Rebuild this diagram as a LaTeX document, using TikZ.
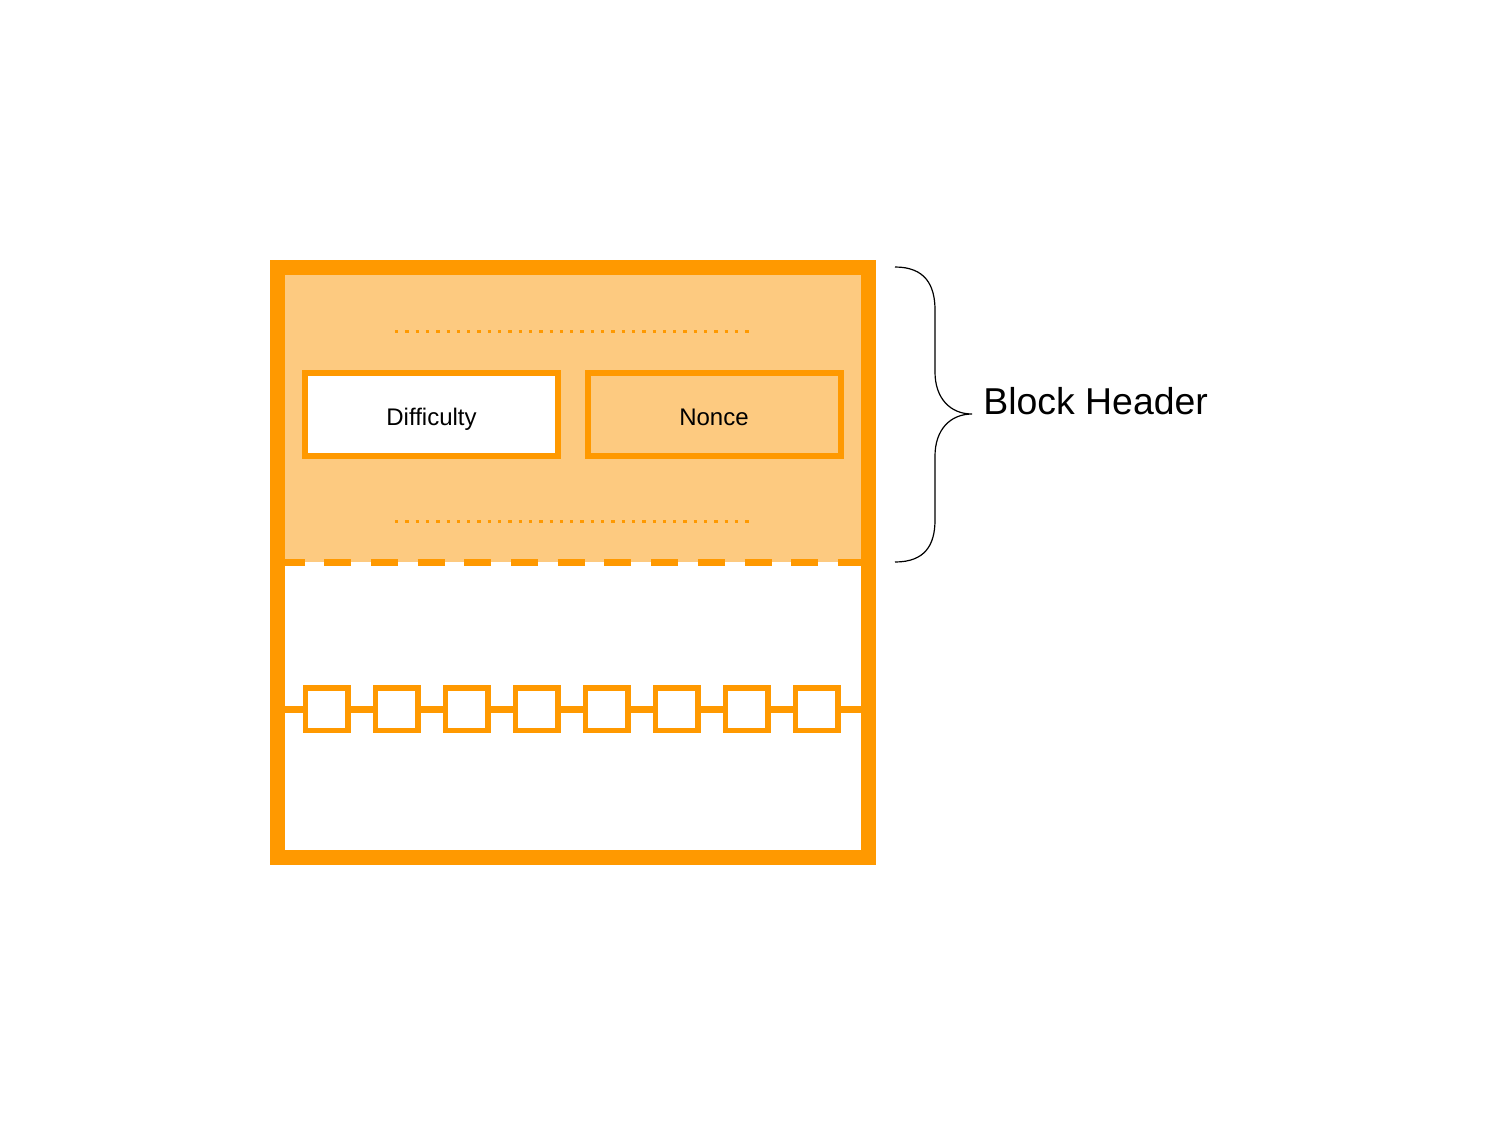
\documentclass[tikz,border=0pt]{standalone}
\usepackage{fontspec}
\setmainfont{Liberation Sans}
\usetikzlibrary{positioning}
\definecolor{blockorange}{RGB}{255,153,0}
\definecolor{headerfill}{RGB}{253,202,128}
\tikzset{
  field/.style={draw=blockorange,line width=3pt,minimum width=126.5pt,minimum height=41.75pt,inner sep=0pt,text height=10.8pt,text depth=0pt,font=\fontsize{12}{14}\selectfont},
  link/.style={draw=blockorange,line width=2.75pt,minimum size=21.25pt,inner sep=0pt,fill=white},
  chainline/.style={blockorange,line width=3.5pt},
}
\begin{document}
\begin{tikzpicture}[x=0.5pt,y=0.5pt,yscale=-1,xscale=1]
\useasboundingbox (0,0) rectangle (1500,1125);

%Shape: Rectangle [header fill]
\fill [headerfill] (277.5,267.5) rectangle (868.5,562);
%Straight Lines [dashed separator]
\draw [blockorange,line width=3.5pt,dash pattern=on 13.5pt off 9.85pt] (277.5,562) -- (868.5,562);
%Straight Lines [dotted rows]
\draw [blockorange,line width=1.65pt,dash pattern=on 1.65pt off 3.5pt] (395,331.5) -- (750,331.5);
\draw [blockorange,line width=1.65pt,dash pattern=on 1.65pt off 3.5pt] (395,521.5) -- (750,521.5);

% Fields
\node [field,fill=white] (diff) at (431.5,414.25) {Difficulty};
\node [field] (nonce) at (714,414.25) {Nonce};

% Chain
\coordinate (cl) at (277.5,709);
\coordinate (cr) at (868.5,709);
\foreach \i in {1,...,8}
  \node [link] (sq\i) at ({256.75+70*\i},709) {};
\draw [chainline] (cl) -- (sq1.west);
\foreach \i [count=\j from 2] in {1,...,7}
  \draw [chainline] (sq\i.east) -- (sq\j.west);
\draw [chainline] (sq8.east) -- (cr);

%Shape: Rectangle [block outline]
\draw [blockorange,line width=7.5pt] (277.5,267.5) rectangle (868.5,857);

%Shape: Brace
\draw [line width=0.6pt] (895,267) .. controls (925,267) and (935,285) .. (935,310) -- (935,372) .. controls (935,398) and (950,414) .. (972,414) .. controls (950,414) and (935,430) .. (935,456) -- (935,520) .. controls (935,545) and (925,562) .. (895,562);

% Text Node
\node [anchor=base west,inner sep=0pt,font=\fontsize{18.7}{22}\selectfont] (hdr) at (983,414) {Block Header};

\end{tikzpicture}
\end{document}
